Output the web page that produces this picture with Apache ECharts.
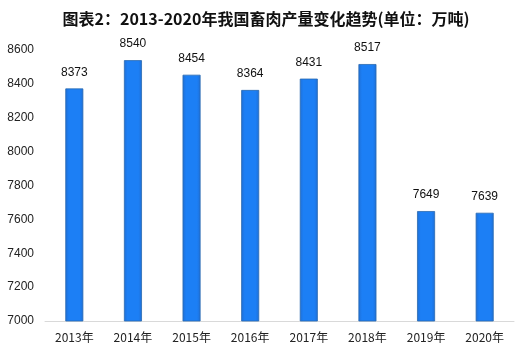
<!DOCTYPE html>
<html><head><meta charset="utf-8">
<script src="https://cdn.jsdelivr.net/npm/echarts@6/dist/echarts.min.js"></script>
<style>html,body{margin:0;padding:0;background:#fff}#c{width:532px;height:357px}</style>
</head><body><div id="c"></div>
<script>
const titleText = '图表2：2013-2020年我国畜肉产量变化趋势(单位：万吨)';
const categories = ['2013年','2014年','2015年','2016年','2017年','2018年','2019年','2020年'];
const values = [8373, 8540, 8454, 8364, 8431, 8517, 7649, 7639];
const yMin = 7000, yMax = 8600, yStep = 200;

const chart = echarts.init(document.getElementById('c'), null, {renderer:'canvas'});
chart.setOption({
  animation:false,
  backgroundColor:'#fff',
  title:{text:titleText,left:'center',top:6,textStyle:{fontFamily:'Noto Sans CJK SC',fontWeight:'bold',fontSize:16,color:'#111'}},
  grid:{left:45,right:18,top:50,bottom:36},
  xAxis:{type:'category',data:categories,
    axisLine:{lineStyle:{color:'#d9d9d9'}},axisTick:{show:false},
    axisLabel:{color:'#222',fontSize:12,fontFamily:'Noto Sans CJK SC',margin:10}},
  yAxis:{type:'value',min:yMin,max:yMax,interval:yStep,
    axisLine:{show:false},axisTick:{show:false},splitLine:{show:false},
    axisLabel:{color:'#222',fontSize:12,fontFamily:'Liberation Sans',margin:11,formatter:v=>String(v)}},
  series:[{type:'bar',data:values,barWidth:18,
    itemStyle:{color:new echarts.graphic.LinearGradient(0,0,1,0,[{offset:0,color:'#1f6fd6'},{offset:0.2,color:'#1c7ff5'},{offset:0.8,color:'#1c7ff5'},{offset:1,color:'#1f6fd6'}]),borderColor:'#2a6ab0',borderWidth:0.8},
    label:{show:true,position:'top',distance:10,color:'#111',fontSize:12,fontFamily:'Liberation Sans'}}]
});
</script></body></html>
